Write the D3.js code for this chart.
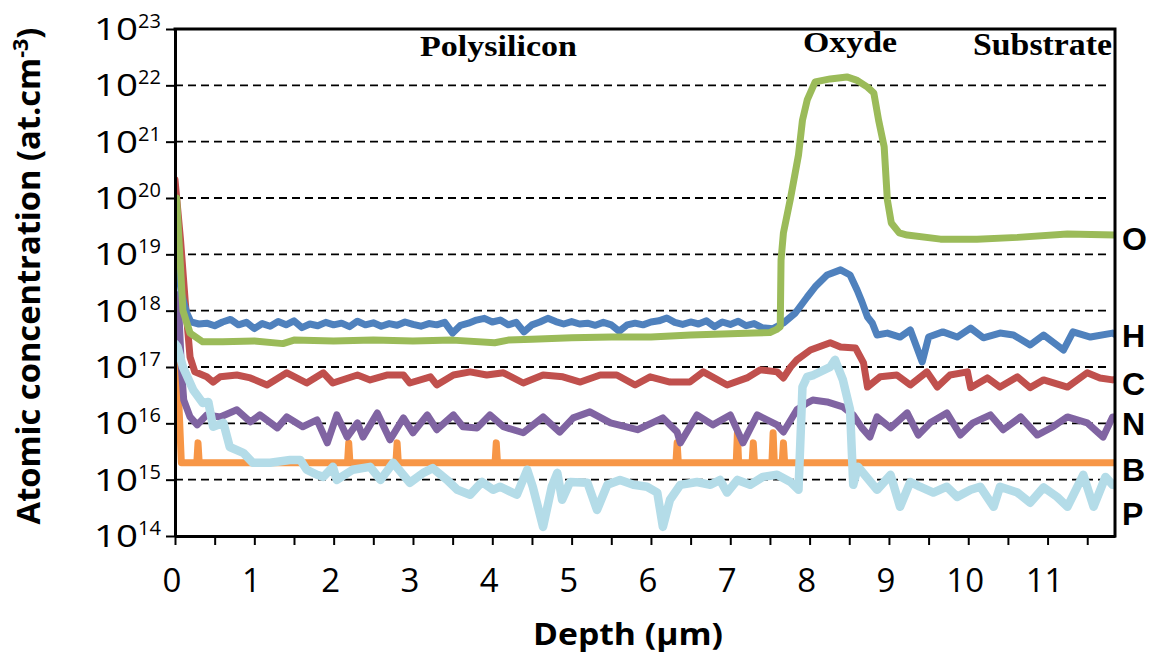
<!DOCTYPE html>
<html><head><meta charset="utf-8">
<script src="https://cdn.jsdelivr.net/npm/d3@7"></script>
<style>body{margin:0;background:#fff}svg{display:block}</style>
</head><body>
<svg id="c" width="1149" height="659"></svg>
<script>
// ---------- data ----------
const depthDomain = [0, 11.85];
const yTickExponents = [14, 15, 16, 17, 18, 19, 20, 21, 22, 23];
const gridExponents = [15, 16, 17, 18, 19, 20, 21, 22];
const xTickLabels = [0, 1, 2, 3, 4, 5, 6, 7, 8, 9, 10, 11];
const regionLabels = ["Polysilicon", "Oxyde", "Substrate"];
const elementLabels = ["O", "H", "C", "N", "B", "P"];

const seriesO = [[0,1.0e20],[0.02,1.0e20],[0.10,1.0e18],[0.19,4.0e17],[0.35,2.8e17],[0.6,2.8e17],[1.0,2.9e17],[1.36,2.6e17],[1.5,3.0e17],[2.0,2.9e17],[2.5,3.0e17],[3.0,2.9e17],[3.5,3.0e17],[4.03,2.7e17],[4.2,3.0e17],[4.5,3.1e17],[5.0,3.3e17],[5.5,3.4e17],[6.0,3.4e17],[6.5,3.7e17],[7.0,3.9e17],[7.3,4.0e17],[7.50,4.1e17],[7.58,4.6e17],[7.63,5.2e17],[7.64,7.9e18],[7.67,2.4e19],[7.76,1.0e20],[7.86,5.8e20],[7.91,2.4e21],[7.97,5.5e21],[8.07,1.15e22],[8.26,1.30e22],[8.47,1.41e22],[8.59,1.24e22],[8.73,9.3e21],[8.81,7.3e21],[8.87,2.4e21],[8.94,8.1e20],[8.98,9.3e19],[9.03,3.6e19],[9.13,2.4e19],[9.23,2.2e19],[9.65,1.86e19],[10.11,1.86e19],[10.62,2.0e19],[11.25,2.3e19],[11.85,2.2e19]];

const seriesH = [[0,2.0e19],[0.08,2.0e18],[0.15,9.0e17],[0.2,6.3e17],[0.3,5.8e17],[0.4,6.0e17],[0.5,5.4e17],[0.6,6.3e17],[0.7,7.0e17],[0.8,5.6e17],[0.9,6.2e17],[1.0,4.8e17],[1.1,5.9e17],[1.2,5.3e17],[1.3,6.4e17],[1.4,5.6e17],[1.5,6.6e17],[1.6,5.0e17],[1.7,5.8e17],[1.8,5.4e17],[1.9,6.2e17],[2.0,5.6e17],[2.1,6.0e17],[2.2,5.2e17],[2.3,6.5e17],[2.4,5.6e17],[2.5,6.1e17],[2.6,5.3e17],[2.7,5.9e17],[2.8,5.5e17],[2.9,6.3e17],[3.0,5.7e17],[3.1,5.3e17],[3.2,5.9e17],[3.3,5.6e17],[3.4,6.2e17],[3.5,4.0e17],[3.6,5.5e17],[3.7,6.0e17],[3.8,6.8e17],[3.9,7.3e17],[4.0,6.3e17],[4.1,6.8e17],[4.2,5.6e17],[4.3,6.2e17],[4.4,4.2e17],[4.5,5.6e17],[4.6,6.3e17],[4.7,7.3e17],[4.8,6.4e17],[4.9,5.8e17],[5.0,6.4e17],[5.1,5.8e17],[5.2,6.0e17],[5.3,5.5e17],[5.4,6.2e17],[5.5,5.6e17],[5.6,4.3e17],[5.7,5.6e17],[5.8,6.0e17],[5.9,5.6e17],[6.0,6.3e17],[6.1,6.6e17],[6.2,7.4e17],[6.3,6.2e17],[6.4,5.7e17],[6.5,6.3e17],[6.6,5.8e17],[6.7,6.6e17],[6.8,5.2e17],[6.9,6.3e17],[7.0,5.7e17],[7.1,6.5e17],[7.2,5.4e17],[7.3,5.9e17],[7.4,5.0e17],[7.54,4.8e17],[7.67,6.05e17],[7.82,9.1e17],[7.97,1.75e18],[8.07,2.65e18],[8.22,4.3e18],[8.39,5.3e18],[8.51,4.3e18],[8.60,2.3e18],[8.66,1.43e18],[8.73,7.7e17],[8.79,6.05e17],[8.85,3.7e17],[8.98,4.0e17],[9.14,3.4e17],[9.27,4.55e17],[9.42,1.23e17],[9.50,3.4e17],[9.68,4.2e17],[9.86,3.4e17],[10.03,4.9e17],[10.19,3.3e17],[10.40,4.0e17],[10.57,3.7e17],[10.78,2.46e17],[10.95,3.7e17],[11.20,2.0e17],[11.32,4.2e17],[11.54,3.4e17],[11.82,4.0e17],[11.85,3.8e17]];

const seriesC = [[0,2.1e20],[0.07,1.8e19],[0.13,1.4e18],[0.19,1.5e17],[0.25,8.2e16],[0.40,6.7e16],[0.48,5.4e16],[0.57,6.7e16],[0.78,7.2e16],[0.95,6.4e16],[1.16,4.8e16],[1.41,7.9e16],[1.66,5.2e16],[1.87,7.9e16],[1.99,5.2e16],[2.30,7.2e16],[2.46,5.9e16],[2.67,7.2e16],[2.88,7.2e16],[2.96,5.2e16],[3.22,6.7e16],[3.30,4.8e16],[3.51,7.2e16],[3.72,8.2e16],[3.93,7.2e16],[4.14,7.9e16],[4.39,5.2e16],[4.64,7.2e16],[4.89,6.7e16],[5.11,5.4e16],[5.36,7.2e16],[5.57,7.2e16],[5.80,4.8e16],[5.99,6.7e16],[6.24,5.4e16],[6.49,5.4e16],[6.66,8.2e16],[6.96,4.8e16],[7.21,6.4e16],[7.38,8.9e16],[7.59,8.2e16],[7.67,6.4e16],[7.76,1.0e17],[7.84,1.34e17],[8.01,2.0e17],[8.26,2.7e17],[8.39,2.27e17],[8.58,2.17e17],[8.68,1.18e17],[8.73,4.4e16],[8.89,6.7e16],[9.10,7.2e16],[9.27,4.8e16],[9.48,8.2e16],[9.61,4.4e16],[9.77,7.2e16],[9.99,8.2e16],[10.03,4.3e16],[10.24,6.4e16],[10.40,4.4e16],[10.62,6.7e16],[10.78,4.3e16],[10.95,5.9e16],[11.25,4.4e16],[11.50,7.9e16],[11.66,6.4e16],[11.82,5.9e16],[11.85,6.0e16]];

const seriesN = [[0,2.0e18],[0.04,1.8e18],[0.08,1.0e17],[0.11,2.6e16],[0.19,1.3e16],[0.28,9.4e15],[0.40,1.41e16],[0.57,1.3e16],[0.78,1.74e16],[0.95,1.06e16],[1.07,1.41e16],[1.29,8.3e15],[1.41,1.3e16],[1.61,8.7e15],[1.79,1.15e16],[1.92,4.5e15],[2.04,1.41e16],[2.17,5.7e15],[2.30,1.02e16],[2.37,5.7e15],[2.55,1.53e16],[2.71,5.1e15],[2.88,1.25e16],[3.00,6.8e15],[3.18,1.41e16],[3.30,7.7e15],[3.51,1.41e16],[3.63,8.7e15],[3.81,8.3e15],[3.97,1.41e16],[4.14,8.7e15],[4.39,6.8e15],[4.64,1.3e16],[4.85,7.0e15],[5.02,1.25e16],[5.23,1.6e16],[5.49,1.02e16],[5.83,7.7e15],[6.15,1.25e16],[6.33,7.0e15],[6.37,4.5e15],[6.58,1.41e16],[6.78,9.4e15],[7.00,1.41e16],[7.16,4.5e15],[7.34,1.41e16],[7.59,9.4e15],[7.67,7.0e15],[7.84,1.74e16],[7.97,2.3e16],[8.04,2.6e16],[8.22,2.4e16],[8.42,1.96e16],[8.55,1.41e16],[8.66,8.3e15],[8.76,5.7e15],[8.85,1.3e16],[9.02,8.3e15],[9.23,1.53e16],[9.37,6.2e15],[9.52,1.02e16],[9.73,1.53e16],[9.90,6.2e15],[10.06,1.02e16],[10.28,1.41e16],[10.44,7.7e15],[10.66,1.3e16],[10.87,6.2e15],[11.07,8.7e15],[11.25,1.3e16],[11.50,1.02e16],[11.70,5.7e15],[11.82,1.3e16],[11.85,1.3e16]];

const seriesB = [[0,1.2e17],[0.03,1.0e17],[0.08,2.0e15],[0.275,2.0e15],[0.29,4.5e15],[0.305,2.0e15],[2.175,2.0e15],[2.19,4.5e15],[2.205,2.0e15],[2.785,2.0e15],[2.80,4.5e15],[2.815,2.0e15],[4.035,2.0e15],[4.05,4.5e15],[4.065,2.0e15],[6.315,2.0e15],[6.33,4.5e15],[6.345,2.0e15],[7.075,2.0e15],[7.09,6.8e15],[7.105,2.0e15],[7.275,2.0e15],[7.29,4.5e15],[7.305,2.0e15],[7.525,2.0e15],[7.54,6.8e15],[7.555,2.0e15],[7.655,2.0e15],[7.67,4.5e15],[7.685,2.0e15],[11.85,2.0e15]];

const seriesP = [[0,2.6e17],[0.03,2.3e17],[0.10,1.0e17],[0.23,3.9e16],[0.35,2.3e16],[0.42,2.4e16],[0.48,8.7e15],[0.61,1.02e16],[0.69,3.8e15],[0.86,3.0e15],[0.98,2.0e15],[1.20,2.0e15],[1.45,2.24e15],[1.58,2.24e15],[1.66,1.5e15],[1.79,1.22e15],[1.87,1.12e15],[1.99,1.69e15],[2.04,9.9e14],[2.24,1.5e15],[2.46,1.69e15],[2.59,9.9e14],[2.75,2.0e15],[2.96,8.8e14],[3.13,1.32e15],[3.25,1.6e15],[3.43,9.9e14],[3.56,6.6e14],[3.72,5.4e14],[3.87,9.1e14],[4.01,6.6e14],[4.10,7.5e14],[4.31,5.4e14],[4.44,1.5e15],[4.51,7.5e14],[4.64,1.45e14],[4.75,7.5e14],[4.82,1.32e15],[4.88,4.4e14],[4.98,9.1e14],[5.20,8.8e14],[5.32,2.9e14],[5.45,8.1e14],[5.61,9.9e14],[5.78,8.1e14],[5.95,7.5e14],[6.08,5.9e14],[6.15,1.45e14],[6.24,4.4e14],[6.37,8.1e14],[6.58,9.1e14],[6.75,8.1e14],[6.87,9.9e14],[6.96,5.9e14],[7.09,9.9e14],[7.25,8.1e14],[7.41,1.12e15],[7.59,1.22e15],[7.76,9.1e14],[7.86,6.6e14],[7.91,4.4e16],[7.97,6.7e16],[8.05,7.2e16],[8.26,1.0e17],[8.32,1.34e17],[8.42,5.9e16],[8.51,1.74e16],[8.55,8.1e14],[8.61,1.69e15],[8.85,6.6e14],[9.02,1.22e15],[9.14,3.3e14],[9.27,9.1e14],[9.39,7.5e14],[9.56,5.9e14],[9.73,7.5e14],[9.86,4.95e14],[10.03,6.6e14],[10.15,7.5e14],[10.32,3.3e14],[10.40,7.5e14],[10.62,5.9e14],[10.78,3.9e14],[10.95,7.3e14],[11.12,4.95e14],[11.25,3.3e14],[11.45,1.22e15],[11.58,3.3e14],[11.73,1.12e15],[11.82,8.1e14],[11.85,8.0e14]];

// ---------- chart ----------
const svg = d3.select("#c");
const L = 175, R = 1115, T = 29, B = 536;
const x = d3.scaleLinear().domain(depthDomain).range([L, R]);
const y = d3.scaleLog().domain([1e14, 1e23]).range([B, T]);
const SANS = "'Open Sans', 'DejaVu Sans', sans-serif";
const ARIAL = "'Liberation Sans', Arial, sans-serif";
const SERIF = "'Liberation Serif', 'DejaVu Serif', serif";

function label(px, py, str, o) {
  const g = svg.append("g").attr("transform", `translate(${px},${py})` + (o.rotate ? ` rotate(${o.rotate})` : ""));
  const t = g.append("text").attr("text-anchor", o.anchor || "start")
    .style("font-family", o.family || SANS).style("font-size", o.size + "px")
    .style("font-weight", o.weight || "normal").attr("fill", "#000");
  if (o.build) o.build(t); else t.text(str);
  if (o.width) { const w = t.node().getBBox().width; t.attr("transform", `scale(${o.width / w},1)`); }
  return t;
}

svg.append("defs").append("clipPath").attr("id", "plot")
  .append("rect").attr("x", L).attr("y", T - 2).attr("width", R - L).attr("height", B - T + 2);

// grid
svg.append("g").selectAll("line").data(gridExponents).join("line")
  .attr("x1", L).attr("x2", R - 4)
  .attr("y1", e => y(Math.pow(10, e))).attr("y2", e => y(Math.pow(10, e)))
  .attr("stroke", "#000").attr("stroke-width", 1.8).attr("stroke-dasharray", "8,5");

// series
const line = d3.line().x(d => x(d[0])).y(d => y(d[1]));
const seriesDraw = [
  [seriesB, "#f79646", 7], [seriesN, "#8064a2", 7], [seriesC, "#c0504d", 7],
  [seriesH, "#4f81bd", 7], [seriesO, "#9bbb59", 7], [seriesP, "#b4dce8", 8.5]
];
const gS = svg.append("g").attr("clip-path", "url(#plot)");
seriesDraw.forEach(([data, col, w]) => {
  gS.append("path").datum(data).attr("d", line).attr("fill", "none")
    .attr("stroke", col).attr("stroke-width", w)
    .attr("stroke-linejoin", "round").attr("stroke-linecap", "round");
});

// axes
const yAxis = d3.axisLeft(y).tickValues(yTickExponents.map(e => Math.pow(10, e)))
  .tickFormat("").tickSize(9).tickSizeOuter(0);
const gy = svg.append("g").attr("transform", `translate(${L},0)`).call(yAxis);
const xAxis = d3.axisBottom(x).tickValues(d3.range(0, 11.75, 0.5))
  .tickFormat("").tickSize(9).tickSizeOuter(0);
const gx = svg.append("g").attr("transform", `translate(0,${B})`).call(xAxis);
[gx, gy].forEach(g => {
  g.select(".domain").attr("stroke", "#000").attr("stroke-width", 3);
  g.selectAll(".tick line").attr("stroke", "#000").attr("stroke-width", 2);
});
// top & right frame
svg.append("path").attr("d", `M${L - 1.5},${T} H${R} V${B + 1.5}`)
  .attr("fill", "none").attr("stroke", "#000").attr("stroke-width", 3);

// y tick labels
yTickExponents.forEach(e => {
  const ty = y(Math.pow(10, e));
  label(94, ty + 11, "10", { size: 31, width: 44 });
  label(138, ty - 1, String(e), { size: 20 });
});
// x tick labels
xTickLabels.forEach(v => {
  label(x(v) - 3, 592, String(v), { size: 33, anchor: "middle" });
});

// axis titles
label(628, 645, "Depth (µm)", { size: 31, weight: "bold", anchor: "middle", width: 190 });
label(40, 276, "", { size: 32, weight: "bold", anchor: "middle", rotate: -90, width: 497,
  build: t => {
    t.append("tspan").text("Atomic concentration (at.cm");
    t.append("tspan").attr("dy", -12).style("font-size", "21px").text("-3");
    t.append("tspan").attr("dy", 12).text(")");
  } });

// region labels
label(498.5, 56, regionLabels[0], { size: 29, weight: "bold", family: SERIF, anchor: "middle", width: 157 });
label(850, 52, regionLabels[1], { size: 30, weight: "bold", family: SERIF, anchor: "middle", width: 94 });
label(1042.5, 55, regionLabels[2], { size: 31, weight: "bold", family: SERIF, anchor: "middle", width: 139 });

// element labels
const elemBase = [250, 347, 395, 435, 481, 525];
elementLabels.forEach((s, i) => label(1122, elemBase[i], s, { size: 32, weight: "bold", family: ARIAL }));
</script>
</body></html>
